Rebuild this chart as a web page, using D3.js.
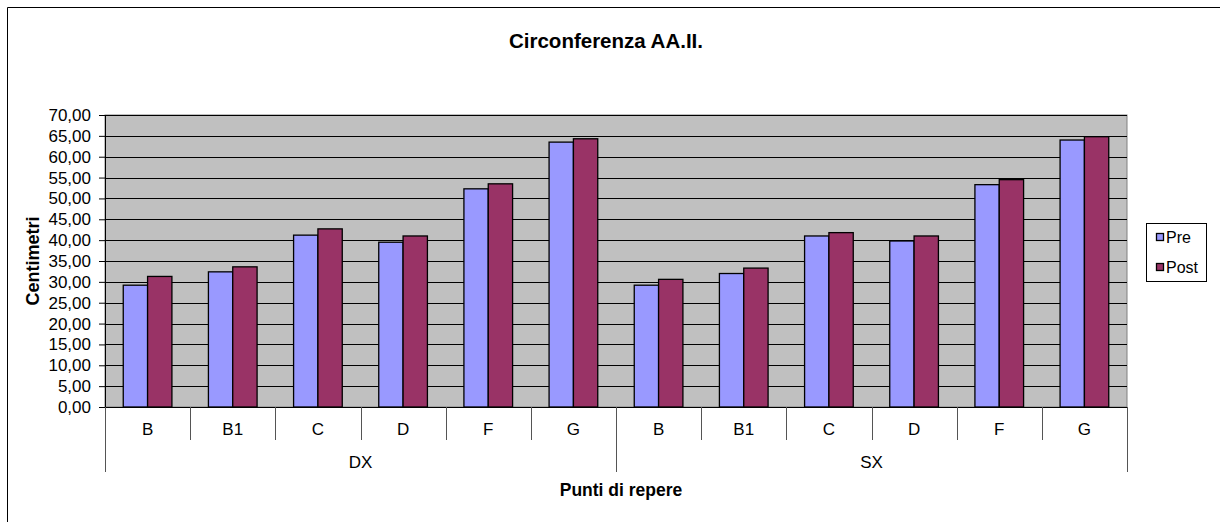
<!DOCTYPE html>
<html><head><meta charset="utf-8">
<script src="https://cdn.jsdelivr.net/npm/d3@7"></script>
<style>body{margin:0;background:#fff}svg{display:block;font-family:"Liberation Sans",Arial,sans-serif}</style>
</head><body><svg id="c" width="1220" height="522"></svg>
<script>
const title = "Circonferenza AA.II.";
const groups = ["DX","SX"];
const categories = ["B","B1","C","D","F","G"];
const seriesNames = ["Pre","Post"];
const preValues  = [29.2,32.4,41.2,39.5,52.3,63.5, 29.2,32.0,41.0,39.8,53.3,64.0];
const postValues = [31.3,33.6,42.7,41.0,53.5,64.3, 30.6,33.3,41.8,41.0,54.5,64.8];
const yTicks = [0,5,10,15,20,25,30,35,40,45,50,55,60,65,70];
const colors = ["#9999FF","#993366"];
const yTitle = "Centimetri", xTitle = "Punti di repere";

const svg = d3.select("#c");
const L = 105, R = 1127, T = 115, B = 407;
const loc = d3.formatLocale({decimal:",",thousands:".",grouping:[3],currency:["",""]});
const fmt = loc.format(".2f");

// chart frame: only top and left edges fall inside the picture
svg.append("line").attr("x1",7.5).attr("x2",1220).attr("y1",7.5).attr("y2",7.5).attr("stroke","#000");
svg.append("line").attr("x1",7.5).attr("x2",7.5).attr("y1",7.5).attr("y2",522).attr("stroke","#000");

const keys = [];
groups.forEach(g => categories.forEach(c => keys.push(g+"|"+c)));
const x = d3.scaleBand().domain(keys).range([L,R]).padding(0);
const x1 = d3.scaleBand().domain(seriesNames).range([0,x.bandwidth()]).paddingInner(0).paddingOuter(0.75);
const y = d3.scaleLinear().domain([0,70]).range([B,T]);

svg.append("rect").attr("x",L).attr("y",T).attr("width",R-L).attr("height",B-T)
  .attr("fill","#C0C0C0").attr("stroke","#808080");

svg.append("g").selectAll("line").data(yTicks.filter(d=>d>0)).join("line")
  .attr("x1",L).attr("x2",R).attr("y1",d=>Math.round(y(d))+0.5).attr("y2",d=>Math.round(y(d))+0.5)
  .attr("stroke","#000").attr("stroke-width",1);

const data = keys.map((k,i)=>({k, vals:[preValues[i],postValues[i]]}));
const gBars = svg.append("g");
data.forEach(d=>{
  seriesNames.forEach((s,j)=>{
    gBars.append("rect")
      .attr("x", x(d.k)+x1(s)).attr("width", x1.bandwidth())
      .attr("y", y(d.vals[j])).attr("height", y(0)-y(d.vals[j]))
      .attr("fill", colors[j]).attr("stroke","#000").attr("stroke-width",1.3);
  });
});

// y axis
const yAxis = d3.axisLeft(y).tickValues(yTicks).tickFormat(fmt).tickSize(6).tickPadding(8);
const ya = svg.append("g").attr("transform",`translate(${L},0)`).call(yAxis);
ya.select(".domain").attr("stroke","#000");
ya.selectAll("text").attr("font-size",17).attr("fill","#000").attr("font-family","Liberation Sans, Arial, sans-serif");

// x axis base line
svg.append("line").attr("x1",L).attr("x2",R).attr("y1",B+0.5).attr("y2",B+0.5).attr("stroke","#000");
keys.forEach((k,i)=>{
  const xx = Math.round(x(k))+0.5;
  const isGroupEdge = i % categories.length === 0;
  svg.append("line").attr("x1",xx).attr("x2",xx).attr("y1",B).attr("y2",isGroupEdge?472:440).attr("stroke","#555");
});
svg.append("line").attr("x1",R+0.5).attr("x2",R+0.5).attr("y1",B).attr("y2",472).attr("stroke","#555");

svg.append("g").selectAll("text").data(keys).join("text")
  .attr("x",k=>x(k)+x.bandwidth()/2).attr("y",429).attr("dy","0.35em")
  .attr("text-anchor","middle").attr("font-size",17).text(k=>k.split("|")[1]);
svg.append("g").selectAll("text").data(groups).join("text")
  .attr("x",g=>{const a=x(g+"|"+categories[0]), b=x(g+"|"+categories[categories.length-1])+x.bandwidth(); return (a+b)/2;})
  .attr("y",462).attr("dy","0.35em").attr("text-anchor","middle").attr("font-size",17).text(g=>g);

svg.append("text").attr("x",621).attr("y",490).attr("dy","0.35em").attr("text-anchor","middle")
  .attr("font-size",17.5).attr("font-weight","bold").text(xTitle);
svg.append("text").attr("transform",`translate(33,${(T+B)/2}) rotate(-90)`).attr("dy","0.35em")
  .attr("text-anchor","middle").attr("font-size",18).attr("font-weight","bold").text(yTitle);
svg.append("text").attr("x",606).attr("y",41).attr("dy","0.35em").attr("text-anchor","middle")
  .attr("font-size",20.5).attr("font-weight","bold").text(title);

// legend
const lg = svg.append("g");
lg.append("rect").attr("x",1146.5).attr("y",223.5).attr("width",60).attr("height",58).attr("fill","#fff").attr("stroke","#000");
seriesNames.forEach((s,j)=>{
  const cy = 237 + j*30;
  lg.append("rect").attr("x",1156.5).attr("y",cy-3.5).attr("width",7).attr("height",7).attr("fill",colors[j]).attr("stroke","#000").attr("stroke-width",1.3);
  lg.append("text").attr("x",1166).attr("y",cy).attr("dy","0.35em").attr("font-size",16).text(s);
});
</script></body></html>
